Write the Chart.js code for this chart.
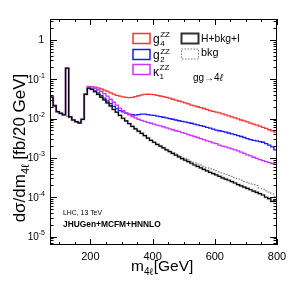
<!DOCTYPE html>
<html>
<head>
<meta charset="UTF-8">
<title>gg → 4l</title>
<script src="https://cdn.jsdelivr.net/npm/chart.js"></script>
<style>
  body { margin: 0; background: #fff; }
</style>
</head>
<body>
<canvas id="myChart" width="291" height="282"></canvas>
<script>
// 10 GeV bins from 70 to 800 GeV, values in fb/20 GeV
const binStart = 70, binWidth = 10, binEnd = 800;

const hBkgI = [0.035, 0.021, 0.015, 0.0135, 0.0125, 0.19, 0.011, 0.0092, 0.0084, 0.0078,
  0.0095, 0.041, 0.059, 0.055, 0.048, 0.041, 0.035, 0.030, 0.025, 0.021,
  0.017, 0.0145, 0.012, 0.0102, 0.0087, 0.0074, 0.0063, 0.0055, 0.0048, 0.0042,
  0.0037, 0.0032, 0.0028, 0.0025, 0.0022, 0.0020, 0.0018, 0.0016, 0.00145, 0.0013,
  0.00118, 0.00106, 0.00096, 0.00088, 0.0008, 0.00073, 0.00066, 0.00061, 0.00056, 0.00051,
  0.00047, 0.00043, 0.0004, 0.00037, 0.00034, 0.00031, 0.00029, 0.00027, 0.00025, 0.00023,
  0.00021, 0.000195, 0.00018, 0.000167, 0.000155, 0.000143, 0.000133, 0.000123, 0.000114, 0.0001,
  0.000092, 0.000078, 0.000085];

const bkg = [0.035, 0.021, 0.015, 0.0135, 0.0125, 0.0115, 0.011, 0.0092, 0.0084, 0.0078,
  0.0095, 0.041, 0.059, 0.055, 0.048, 0.041, 0.035, 0.030, 0.025, 0.021,
  0.017, 0.0145, 0.012, 0.0102, 0.0087, 0.0074, 0.0063, 0.0055, 0.0048, 0.0042,
  0.0037, 0.0032, 0.0028, 0.0025, 0.0022, 0.0020, 0.0018, 0.0016, 0.0015, 0.00136,
  0.00125, 0.00114, 0.00104, 0.00097, 0.00089, 0.00082, 0.00075, 0.0007, 0.00066, 0.00061,
  0.00057, 0.00053, 0.0005, 0.00047, 0.00044, 0.00041, 0.00038, 0.00036, 0.00034, 0.00031,
  0.00029, 0.00027, 0.00025, 0.00024, 0.00022, 0.00021, 0.0002, 0.00017, 0.00016, 0.000145,
  0.000135, 0.000122, 0.000105];

const g4 = [0.035, 0.021, 0.015, 0.0135, 0.0125, 0.19, 0.011, 0.0092, 0.0084, 0.0078,
  0.0095, 0.042, 0.064, 0.065, 0.063, 0.060, 0.057, 0.053, 0.049, 0.045,
  0.042, 0.039, 0.037, 0.0355, 0.0345, 0.034, 0.0345, 0.036, 0.038, 0.040,
  0.041, 0.0415, 0.041, 0.0405, 0.039, 0.0375, 0.036, 0.0345, 0.033, 0.031,
  0.0295, 0.028, 0.0265, 0.025, 0.0235, 0.022, 0.021, 0.020, 0.019, 0.018,
  0.017, 0.016, 0.0153, 0.0146, 0.0139, 0.0131, 0.0124, 0.0117, 0.011, 0.0104,
  0.0098, 0.0092, 0.0087, 0.0082, 0.0077, 0.0072, 0.0068, 0.0064, 0.006, 0.0056,
  0.0052, 0.0049, 0.0045];

const g2 = [0.035, 0.021, 0.015, 0.0135, 0.0125, 0.19, 0.011, 0.0092, 0.0084, 0.0078,
  0.0095, 0.041, 0.060, 0.057, 0.051, 0.045, 0.039, 0.033, 0.028, 0.024,
  0.0205, 0.018, 0.016, 0.0148, 0.0138, 0.013, 0.0125, 0.0123, 0.0126, 0.013,
  0.0129, 0.0126, 0.0123, 0.012, 0.0116, 0.0112, 0.0108, 0.0104, 0.010, 0.0096,
  0.0092, 0.0088, 0.0085, 0.0082, 0.0079, 0.0076, 0.0072, 0.0069, 0.0066, 0.0063,
  0.006, 0.0057, 0.0054, 0.0051, 0.0049, 0.0047, 0.0045, 0.0043, 0.0041, 0.0039,
  0.0037, 0.0035, 0.0033, 0.0031, 0.0029, 0.0028, 0.0027, 0.0026, 0.0025, 0.0023,
  0.0021, 0.0019, 0.0016];

const k1 = [0.036, 0.022, 0.015, 0.0135, 0.0125, 0.19, 0.011, 0.0092, 0.0084, 0.0078,
  0.0095, 0.043, 0.066, 0.064, 0.059, 0.054, 0.049, 0.043, 0.037, 0.031,
  0.026, 0.022, 0.0185, 0.016, 0.014, 0.0125, 0.0113, 0.0104, 0.0096, 0.009,
  0.0085, 0.008, 0.0076, 0.0072, 0.0068, 0.0065, 0.0062, 0.0058, 0.0055, 0.0052,
  0.0049, 0.0047, 0.0044, 0.0042, 0.0039, 0.0037, 0.0035, 0.0033, 0.0031, 0.0029,
  0.0027, 0.0026, 0.0024, 0.0023, 0.0021, 0.002, 0.0019, 0.0018, 0.0017, 0.0016,
  0.0015, 0.0014, 0.0013, 0.0012, 0.00112, 0.00104, 0.00097, 0.0009, 0.00085, 0.0008,
  0.00076, 0.00072, 0.00069];

const xTickLabels = [200, 400, 600, 800];
const yTickExp = [0, -1, -2, -3, -4, -5];

const FF = '"Liberation Sans", Arial, Helvetica, sans-serif';

// turn bin contents into step points (left edges + closing point)
function toSteps(vals) {
  const pts = vals.map((v, i) => ({ x: binStart + i * binWidth, y: v }));
  pts.push({ x: binEnd, y: vals[vals.length - 1] });
  return pts;
}

function ds(label, vals, color, width, dash) {
  return {
    label: label,
    data: toSteps(vals),
    borderColor: color,
    borderWidth: width,
    borderDash: dash || [],
    stepped: 'before',
    fill: false,
    pointRadius: 0,
    tension: 0
  };
}

// text with super/subscript stacked after the base
function richText(ctx, x, y, base, baseSize, sup, sub, small) {
  ctx.font = baseSize + 'px ' + FF;
  ctx.fillText(base, x, y);
  const w = ctx.measureText(base).width;
  ctx.font = small + 'px ' + FF;
  if (sup) ctx.fillText(sup, x + w + 0.5, y - baseSize * 0.45);
  if (sub) ctx.fillText(sub, x + w + 0.5, y + baseSize * 0.25);
}

// draw text scaled so that it spans a given width (ROOT text is a bit wider)
function fitText(ctx, txt, x, y, weight, width) {
  ctx.font = weight + ' 10px ' + FF;
  const size = 10 * width / ctx.measureText(txt).width;
  ctx.font = weight + ' ' + size.toFixed(2) + 'px ' + FF;
  ctx.fillText(txt, x, y);
}

const rootFrame = {
  id: 'rootFrame',
  afterDatasetsDraw(chart) {
    const { ctx, chartArea: a, scales: { x, y } } = chart;
    ctx.save();
    ctx.strokeStyle = '#000';
    ctx.fillStyle = '#000';
    ctx.lineWidth = 1;
    ctx.setLineDash([]);

    const line = (x1, y1, x2, y2) => { ctx.beginPath(); ctx.moveTo(x1, y1); ctx.lineTo(x2, y2); ctx.stroke(); };

    // x ticks, every 50 GeV, major every 200
    for (let v = 100; v <= 800; v += 50) {
      const px = Math.round(x.getPixelForValue(v)) + 0.5;
      const len = (v % 200 === 0) ? 6 : 3;
      line(px, a.bottom, px, a.bottom - len);
      line(px, a.top, px, a.top + len);
    }
    // y ticks, log
    for (let e = -6; e <= 0; e++) {
      for (let m = 1; m <= 9; m++) {
        const v = m * Math.pow(10, e);
        if (v < y.min || v > y.max) continue;
        const py = Math.round(y.getPixelForValue(v)) + 0.5;
        const len = m === 1 ? 7 : 3.5;
        line(a.left, py, a.left + len, py);
        line(a.right, py, a.right - len, py);
      }
    }
    ctx.strokeRect(a.left + 0.5, a.top + 0.5, a.right - a.left - 1, a.bottom - a.top - 1);

    // x labels
    ctx.font = '11px ' + FF;
    ctx.textAlign = 'center';
    ctx.textBaseline = 'alphabetic';
    xTickLabels.forEach(v => ctx.fillText(String(v), x.getPixelForValue(v), 260));

    // y labels
    yTickExp.forEach(e => {
      const py = y.getPixelForValue(Math.pow(10, e));
      if (e === 0) {
        ctx.font = '10px ' + FF; ctx.textAlign = 'right';
        ctx.fillText('1', 44, py + 3.5);
      } else {
        ctx.font = '7px ' + FF;
        const sup = String(e);
        const w = ctx.measureText(sup).width;
        ctx.textAlign = 'left';
        ctx.fillText(sup, 45 - w, py - 1.5);
        ctx.font = '10px ' + FF; ctx.textAlign = 'right';
        ctx.fillText('10', 45 - w, py + 3.5);
      }
    });

    // x title
    ctx.textAlign = 'left';
    let tx = 131;
    ctx.font = '15.5px ' + FF; ctx.fillText('m', tx, 271);
    tx += ctx.measureText('m').width;
    ctx.font = '10px ' + FF; ctx.fillText('4ℓ', tx, 275);
    tx += ctx.measureText('4ℓ').width + 1;
    ctx.font = '15.5px ' + FF; ctx.fillText('[GeV]', tx, 271);

    // y title (rotated)
    ctx.save();
    ctx.translate(25, 148);
    ctx.rotate(-Math.PI / 2);
    ctx.font = '17px ' + FF;
    const p1 = 'dσ/dm', p3 = ' [fb/20 GeV]';
    const w1 = ctx.measureText(p1).width, w3 = ctx.measureText(p3).width;
    ctx.font = '11px ' + FF;
    const w2 = ctx.measureText('4ℓ').width;
    let sx = -(w1 + w2 + w3) / 2;
    ctx.font = '17px ' + FF; ctx.fillText(p1, sx, 0); sx += w1;
    ctx.font = '11px ' + FF; ctx.fillText('4ℓ', sx, 4); sx += w2;
    ctx.font = '17px ' + FF; ctx.fillText(p3, sx, 0);
    ctx.restore();

    // legend
    const sets = chart.data.datasets;
    const box = (bx, by, col, lw, dash) => {
      ctx.strokeStyle = col; ctx.lineWidth = lw; ctx.setLineDash(dash || []);
      ctx.strokeRect(bx, by, 17, 10);
      ctx.setLineDash([]);
    };
    box(133, 33.5, sets[5].borderColor, 1.5);
    box(133, 49.5, sets[4].borderColor, 1.5);
    box(133, 64.5, sets[3].borderColor, 1.5);
    box(181.5, 33.5, '#333', 2);
    box(181.5, 49, '#777', 1, [1.5, 1.5]);
    ctx.fillStyle = '#000';
    ctx.textAlign = 'left';
    richText(ctx, 153, 42.5, 'g', 12, 'ZZ', '4', 8);
    richText(ctx, 153, 59, 'g', 12, 'ZZ', '2', 8);
    richText(ctx, 153, 75.5, 'κ', 12, 'ZZ', '1', 8);
    fitText(ctx, 'H+bkg+I', 201, 41.5, 'normal', 39);
    fitText(ctx, 'bkg', 201, 56, 'normal', 17.5);
    ctx.font = '10px ' + FF;
    ctx.fillText('gg→4', 193, 81);
    const gw = ctx.measureText('gg→4').width;
    ctx.font = 'italic 10px ' + FF;
    ctx.fillText('ℓ', 193 + gw, 81);

    // labels
    fitText(ctx, 'LHC, 13 TeV', 63, 215, 'normal', 39);
    fitText(ctx, 'JHUGen+MCFM+HNNLO', 63, 226.5, 'bold', 98);
    ctx.restore();
  }
};

const ctx = document.getElementById('myChart').getContext('2d');
new Chart(ctx, {
  type: 'line',
  data: {
    datasets: [
      ds('H+bkg+I', hBkgI, '#000', 1.2),
      ds('H+bkg+I halo', hBkgI, 'rgba(150,150,150,0.45)', 2.6),
      ds('bkg', bkg, '#777', 1, [2, 1.5]),
      ds('κ1ZZ', k1, '#cc33ff', 1.3),
      ds('g2ZZ', g2, '#1a1aff', 1.3),
      ds('g4ZZ', g4, '#ff3333', 1.3)
    ]
  },
  options: {
    responsive: false,
    animation: false,
    devicePixelRatio: 1,
    layout: { padding: { left: 50, right: 14, top: 19, bottom: 37 } },
    scales: {
      x: { type: 'linear', min: binStart, max: binEnd, display: false },
      y: { type: 'logarithmic', min: 6.1e-6, max: 3.4, display: false }
    },
    plugins: { legend: { display: false }, tooltip: { enabled: false } }
  },
  plugins: [rootFrame]
});
</script>
</body>
</html>
